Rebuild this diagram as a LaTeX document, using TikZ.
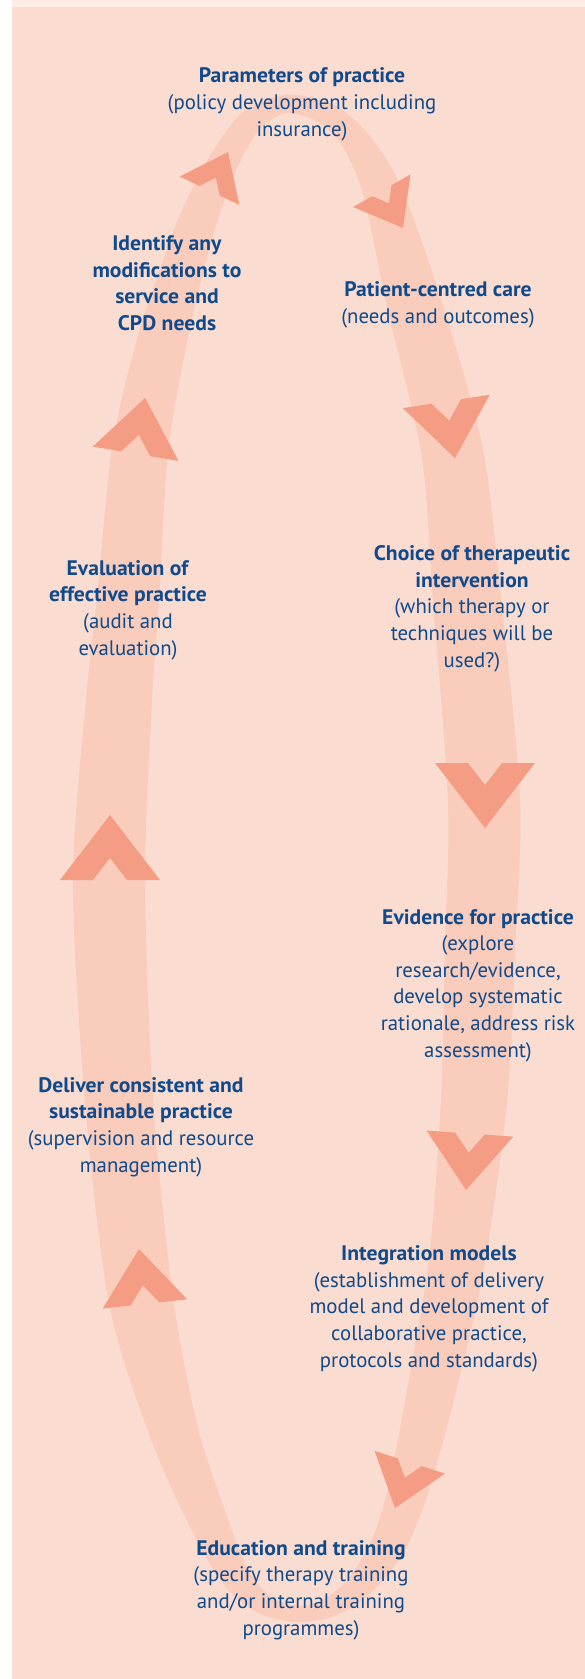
\documentclass[tikz,border=0pt]{standalone}
\usepackage{fontspec}
\setmainfont{PT Sans}[FakeStretch=0.99, BoldFeatures={FakeStretch=1.03}]
\begin{document}
\definecolor{paneledge}{HTML}{FBDCD1}
\definecolor{panelmid}{HTML}{FDEEE9}
\definecolor{topstrip}{HTML}{FDEBE5}
\definecolor{bandfill}{HTML}{F9CCBC}
\definecolor{chevfill}{HTML}{F59D84}
\definecolor{ink}{HTML}{0E4A8C}
\tikzset{
  chevron/.pic={\fill[chevfill] (0,0) -- (50,65) -- (17,65) -- (0,43) -- (-17,65) -- (-50,65) -- cycle;},
  % nodes are placed by the baseline of their last line
  stage/.style={align=center, text=ink, font=\fontsize{21}{26.6}\selectfont, inner sep=0pt, anchor=base},
}
\begin{tikzpicture}[x=1pt,y=-1pt]
\useasboundingbox (0,0) rectangle (585,1679);
% page background
\fill[white] (0,0) rectangle (585,1679);
\fill[topstrip] (12,0) rectangle (585,7);
\shade[top color=paneledge, middle color=panelmid, bottom color=paneledge] (12,7) rectangle (585,1679);
% the cycle band: outer and inner outlines
\fill[bandfill, even odd rule]
  plot[smooth cycle] coordinates {
    (284,95) (330,103) (366.3,131.7) (399.9,184.5) (439,292.8) (482,444.5)
    (500.9,597.1) (520,798.7) (515,951.2) (506.9,1102.4) (484.7,1264.1)
    (454.5,1398) (427.2,1495.4) (403.2,1552.7) (369.5,1593.9) (334.2,1616.1)
    (297.8,1622) (260.1,1613.7) (226.4,1587.9) (195.7,1538) (152.1,1442.3)
    (109.4,1305.3) (85.1,1102.6) (73,880) (86.1,697.8) (97.1,597.4)
    (112.2,446.4) (135.6,344.5) (154.9,283.8) (179.2,216.4) (208.7,158)
    (241.6,113.4)}
  plot[smooth cycle] coordinates {
    (286,113) (320,123) (343.7,148.3) (364.1,197.5) (387,307.2) (421.5,455.5)
    (433.1,602.9) (448,801.3) (445,948.8) (441.1,1097.6) (429.3,1255.9)
    (407.5,1388) (388.8,1484.6) (372.8,1537.3) (350.5,1576.1) (325.8,1597.9)
    (298.2,1606) (269.9,1596.3) (247,1568) (230,1525) (197.9,1427.7)
    (172.6,1294.7) (152.9,1097.4) (145,880) (151.9,702.2) (158.9,602.6)
    (167.8,453.6) (184.4,355.5) (197.1,296.2) (214.8,229.6) (235.3,172)
    (258.4,130.6)};
% direction chevrons along the band
\pic (a1) [rotate=-25.4, scale=0.66] at (228,152) {chevron};
\pic (a2) [rotate=-150.4, scale=0.66] at (403,228) {chevron};
\pic (a3) [rotate=-171.2, scale=0.88] at (455,458) {chevron};
\pic (a4) [rotate=180, scale=1] at (485,828) {chevron};
\pic (a5) [rotate=176, scale=0.87] at (466,1190) {chevron};
\pic (a6) [rotate=162.1, scale=0.74] at (395,1508) {chevron};
\pic (a7) [rotate=6.2, scale=0.85] at (139,1249) {chevron};
\pic (a8) [rotate=0, scale=1] at (110,815) {chevron};
\pic (a9) [rotate=-9.5, scale=0.87] at (145,398) {chevron};
% stage labels
\node[stage] (params) at (302,136) {\textbf{Parameters of practice}\\(policy development including\\insurance)};
\node[stage] (patient) at (438,323) {\textbf{Patient-centred care}\\(needs and outcomes)};
\node[stage] (choice) at (472,667) {\textbf{Choice of therapeutic}\\\textbf{intervention}\\(which therapy or\\techniques will be\\used?)};
\node[stage] (evidence) at (478,1057) {\textbf{Evidence for practice}\\(explore\\research/evidence,\\develop systematic\\rationale, address risk\\assessment)};
\node[stage] (integ) at (429,1367) {\textbf{Integration models}\\(establishment of delivery\\model and development of\\collaborative practice,\\protocols and standards)};
\node[stage] (educ) at (301,1635) {\textbf{Education and training}\\(specify therapy training\\and/or internal training\\programmes)};
\node[stage] (deliver) at (141,1172) {\textbf{Deliver consistent and}\\\textbf{sustainable practice}\\(supervision and resource\\management)};
\node[stage] (evalu) at (128,655) {\textbf{Evaluation of}\\\textbf{effective practice}\\(audit and\\evaluation)};
\node[stage] (modif) at (167,330.5) {\textbf{Identify any}\\\textbf{modifications to}\\\textbf{service and}\\\textbf{CPD needs}};
\end{tikzpicture}
\end{document}
